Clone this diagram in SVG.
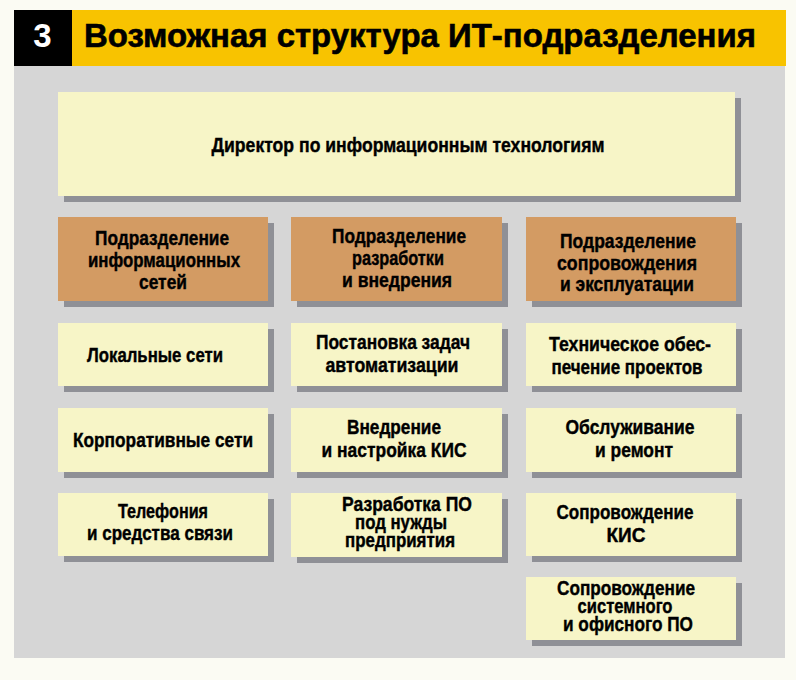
<svg xmlns="http://www.w3.org/2000/svg" width="796" height="680" viewBox="0 0 796 680">
<defs>
<style>
.bg{fill:#fbfbf3}
.panel{fill:#d6d6d6}
.sh{fill:#8f9096}
.lt{fill:#f7f5c7}
.br{fill:#d39b63}
.t{font-family:"Liberation Sans",Arial,sans-serif;font-weight:bold;font-size:20px;fill:#000;stroke:#000;stroke-width:0.4;text-anchor:middle}
.h{font-family:"Liberation Sans",Arial,sans-serif;font-weight:bold;font-size:33px}
</style>
</defs>
<rect class="bg" x="0" y="0" width="796" height="680"/>
<g id="header">
<rect x="14" y="10" width="58" height="56" fill="#000"/>
<rect x="72" y="10" width="714" height="56" fill="#f8c300"/>
<text class="h" x="42.5" y="47" fill="#fff" text-anchor="middle">3</text>
<text class="h" x="84" y="47" fill="#000" stroke="#000" stroke-width="0.6" textLength="672" lengthAdjust="spacingAndGlyphs">Возможная структура ИТ-подразделения</text>
</g>
<rect class="panel" x="14" y="66" width="771" height="592"/>
<g id="connectors"/>
<g id="director">
<rect class="sh" x="64" y="98" width="677" height="104"/>
<rect class="lt" x="58" y="92" width="677" height="104"/>
<text class="t" x="408" y="152" font-size="17" textLength="393" lengthAdjust="spacingAndGlyphs">Директор по информационным технологиям</text>
</g>
<g id="dept-networks">
<rect class="sh" x="64" y="223" width="210" height="84"/>
<rect class="br" x="58" y="217" width="210" height="84"/>
<text class="t"><tspan x="162" y="245" textLength="134" lengthAdjust="spacingAndGlyphs">Подразделение</tspan><tspan x="164" y="267" textLength="152" lengthAdjust="spacingAndGlyphs">информационных</tspan><tspan x="163" y="289" textLength="48" lengthAdjust="spacingAndGlyphs">сетей</tspan></text>
</g>
<g id="dept-dev">
<rect class="sh" x="297" y="223" width="211" height="84"/>
<rect class="br" x="291" y="217" width="211" height="84"/>
<text class="t"><tspan x="399" y="243" textLength="134" lengthAdjust="spacingAndGlyphs">Подразделение</tspan><tspan x="398" y="265" textLength="92" lengthAdjust="spacingAndGlyphs">разработки</tspan><tspan x="397" y="287" textLength="110" lengthAdjust="spacingAndGlyphs">и внедрения</tspan></text>
</g>
<g id="dept-support">
<rect class="sh" x="532" y="223" width="210" height="84"/>
<rect class="br" x="526" y="217" width="210" height="84"/>
<text class="t"><tspan x="628" y="248" textLength="136" lengthAdjust="spacingAndGlyphs">Подразделение</tspan><tspan x="627" y="270" textLength="140" lengthAdjust="spacingAndGlyphs">сопровождения</tspan><tspan x="627" y="291" textLength="134" lengthAdjust="spacingAndGlyphs">и эксплуатации</tspan></text>
</g>
<g id="local-networks">
<rect class="sh" x="64" y="329" width="210" height="63"/>
<rect class="lt" x="58" y="323" width="210" height="63"/>
<text class="t" x="155" y="362" font-size="21" textLength="136" lengthAdjust="spacingAndGlyphs">Локальные сети</text>
</g>
<g id="corporate-networks">
<rect class="sh" x="64" y="414" width="210" height="64"/>
<rect class="lt" x="58" y="408" width="210" height="64"/>
<text class="t" x="163" y="447" font-size="21" textLength="180" lengthAdjust="spacingAndGlyphs">Корпоративные сети</text>
</g>
<g id="telephony">
<rect class="sh" x="64" y="499" width="210" height="63"/>
<rect class="lt" x="58" y="493" width="210" height="63"/>
<text class="t"><tspan x="163" y="518" textLength="90" lengthAdjust="spacingAndGlyphs">Телефония</tspan><tspan x="160" y="540" textLength="146" lengthAdjust="spacingAndGlyphs">и средства связи</tspan></text>
</g>
<g id="task-setting">
<rect class="sh" x="297" y="329" width="211" height="63"/>
<rect class="lt" x="291" y="323" width="211" height="63"/>
<text class="t"><tspan x="393" y="349" textLength="154" lengthAdjust="spacingAndGlyphs">Постановка задач</tspan><tspan x="392" y="372" textLength="133" lengthAdjust="spacingAndGlyphs">автоматизации</tspan></text>
</g>
<g id="kis-setup">
<rect class="sh" x="297" y="414" width="211" height="64"/>
<rect class="lt" x="291" y="408" width="211" height="64"/>
<text class="t"><tspan x="394" y="434" textLength="94" lengthAdjust="spacingAndGlyphs">Внедрение</tspan><tspan x="394" y="457" textLength="145" lengthAdjust="spacingAndGlyphs">и настройка КИС</tspan></text>
</g>
<g id="software-dev">
<rect class="sh" x="297" y="499" width="211" height="64"/>
<rect class="lt" x="291" y="493" width="211" height="64"/>
<text class="t" font-size="16"><tspan x="407" y="511" textLength="130" lengthAdjust="spacingAndGlyphs">Разработка ПО</tspan><tspan x="401" y="529" textLength="92" lengthAdjust="spacingAndGlyphs">под нужды</tspan><tspan x="400" y="547" textLength="110" lengthAdjust="spacingAndGlyphs">предприятия</tspan></text>
</g>
<g id="tech-support">
<rect class="sh" x="532" y="329" width="210" height="63"/>
<rect class="lt" x="526" y="323" width="210" height="63"/>
<text class="t"><tspan x="630" y="351" textLength="162" lengthAdjust="spacingAndGlyphs">Техническое обес-</tspan><tspan x="627" y="374" textLength="151" lengthAdjust="spacingAndGlyphs">печение проектов</tspan></text>
</g>
<g id="maintenance">
<rect class="sh" x="532" y="414" width="210" height="64"/>
<rect class="lt" x="526" y="408" width="210" height="64"/>
<text class="t"><tspan x="630" y="434" textLength="129" lengthAdjust="spacingAndGlyphs">Обслуживание</tspan><tspan x="634" y="457" textLength="78" lengthAdjust="spacingAndGlyphs">и ремонт</tspan></text>
</g>
<g id="kis-support">
<rect class="sh" x="532" y="499" width="210" height="63"/>
<rect class="lt" x="526" y="493" width="210" height="63"/>
<text class="t"><tspan x="625" y="519" textLength="137" lengthAdjust="spacingAndGlyphs">Сопровождение</tspan><tspan x="626" y="542" textLength="39" lengthAdjust="spacingAndGlyphs">КИС</tspan></text>
</g>
<g id="office-support">
<rect class="sh" x="532" y="583" width="210" height="63"/>
<rect class="lt" x="526" y="577" width="210" height="63"/>
<text class="t" font-size="16"><tspan x="626" y="595" textLength="138" lengthAdjust="spacingAndGlyphs">Сопровождение</tspan><tspan x="625" y="613" textLength="95" lengthAdjust="spacingAndGlyphs">системного</tspan><tspan x="628" y="631" textLength="130" lengthAdjust="spacingAndGlyphs">и офисного ПО</tspan></text>
</g>
</svg>
